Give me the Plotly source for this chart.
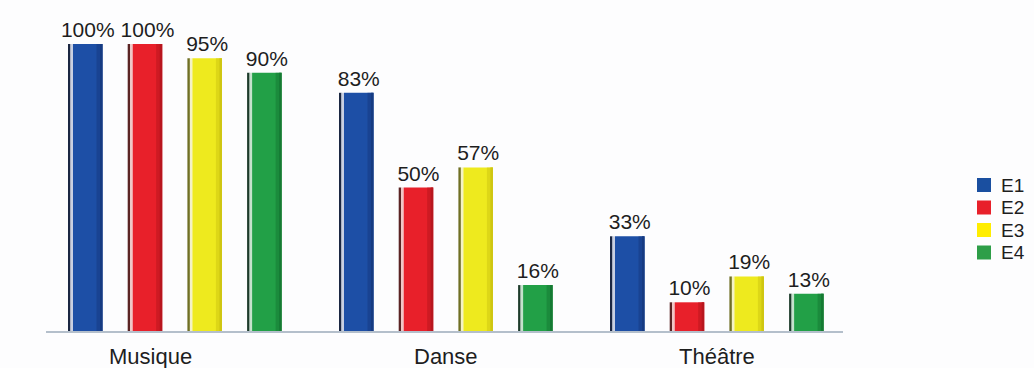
import plotly.graph_objects as go

# Participation rates by discipline for four groups
categories = ["Musique", "Danse", "Théâtre"]
series_names = ["E1", "E2", "E3", "E4"]
e1 = [100, 83, 33]
e2 = [100, 50, 10]
e3 = [95, 57, 19]
e4 = [90, 16, 13]
values = [e1, e2, e3, e4]

# Per-series palette: face, dark right shade, thin left edge, light gap tint
face = ["#1d4fa6", "#e8202a", "#eeea1e", "#22a047"]
shade = ["#163b82", "#b8161e", "#cfc612", "#167a33"]
edge = ["#1b2742", "#5b2424", "#707024", "#1d3b2b"]
tint = ["#c9d0e2", "#f1c6c6", "#f4f2c6", "#c4e2cc"]
legend_face = ["#1a4fa0", "#e8202a", "#ffed00", "#2e9e48"]

FONT = "Liberation Sans, Arial, Helvetica, sans-serif"
TEXT = "#1e1e1e"
W, H = 1034, 368

# Geometry (pixels converted into category units)
PX_PER_CAT = 271.0
X_LEFT_PX, X_RIGHT_PX = 46, 843
CENTER0_PX = 175
STEP = 59.7


def u(px):
    return px / PX_PER_CAT


fig = go.Figure()

for i, name in enumerate(series_names):
    base = -107 + STEP * i
    # thin dark edge
    fig.add_trace(go.Bar(x=categories, y=values[i], offset=u(base), width=u(2.5),
                         marker=dict(color=edge[i], line=dict(width=0)),
                         showlegend=False, hoverinfo="skip"))
    # light gap
    fig.add_trace(go.Bar(x=categories, y=values[i], offset=u(base + 2.5), width=u(2.5),
                         marker=dict(color=tint[i], line=dict(width=0)),
                         showlegend=False, hoverinfo="skip"))
    # main face with value label
    fig.add_trace(go.Bar(x=categories, y=values[i], offset=u(base + 5), width=u(29.5),
                         marker=dict(color=face[i], line=dict(width=0)),
                         text=[f"{v}%" for v in values[i]], textposition="outside",
                         constraintext="none",
                         textfont=dict(family=FONT, size=21, color=TEXT),
                         cliponaxis=False, showlegend=False, name=name))
    # darker rounded right side
    fig.add_trace(go.Bar(x=categories, y=values[i], offset=u(base + 28.5), width=u(6),
                         marker=dict(color=shade[i], line=dict(width=0), opacity=0.55),
                         showlegend=False, hoverinfo="skip"))
    fig.add_trace(go.Bar(x=categories, y=values[i], offset=u(base + 32), width=u(2.5),
                         marker=dict(color=shade[i], line=dict(width=0)),
                         showlegend=False, hoverinfo="skip"))

# Category labels under the axis
label_shift = {"Musique": -25}
for c in categories:
    fig.add_annotation(x=c, y=0, xref="x", yref="y", text=c, showarrow=False,
                       yanchor="middle", yshift=-25, xshift=label_shift.get(c, 0),
                       font=dict(family=FONT, size=22, color=TEXT))

# Legend: colour swatches with series names, stacked on the right
LEG_X, LEG_Y0, LEG_DY, SW = 977, 185, 22.5, 14
for i, name in enumerate(series_names):
    cy = LEG_Y0 + LEG_DY * i
    fig.add_shape(type="rect", xref="paper", yref="paper",
                  x0=(LEG_X - X_LEFT_PX) / (X_RIGHT_PX - X_LEFT_PX),
                  x1=(LEG_X + SW - X_LEFT_PX) / (X_RIGHT_PX - X_LEFT_PX),
                  y0=(H - 37 - (cy + SW / 2)) / (H - 11 - 37),
                  y1=(H - 37 - (cy - SW / 2)) / (H - 11 - 37),
                  fillcolor=legend_face[i], line=dict(width=0))
    fig.add_annotation(xref="paper", yref="paper",
                       x=(LEG_X + SW + 8 - X_LEFT_PX) / (X_RIGHT_PX - X_LEFT_PX),
                       y=(H - 37 - cy) / (H - 11 - 37),
                       xanchor="left", yanchor="middle", text=name, showarrow=False,
                       font=dict(family=FONT, size=19, color=TEXT))

plot_h_px = H - 11 - 37
fig.update_layout(
    width=W, height=H,
    barmode="overlay",
    paper_bgcolor="#fdfdfe", plot_bgcolor="#fdfdfe",
    margin=dict(l=X_LEFT_PX, r=W - X_RIGHT_PX, t=11, b=37, autoexpand=False),
    font=dict(family=FONT, color=TEXT),
    showlegend=False,
)
fig.update_xaxes(type="category",
                 range=[u(X_LEFT_PX - CENTER0_PX), u(X_RIGHT_PX - CENTER0_PX)],
                 showticklabels=False, showgrid=False, zeroline=False,
                 showline=True, linecolor="#b4bfcb", linewidth=1.5, ticks="")
fig.update_yaxes(range=[0, plot_h_px / 2.87], showticklabels=False, showgrid=False,
                 zeroline=False, showline=False, ticks="")

fig.write_html("out.html")
